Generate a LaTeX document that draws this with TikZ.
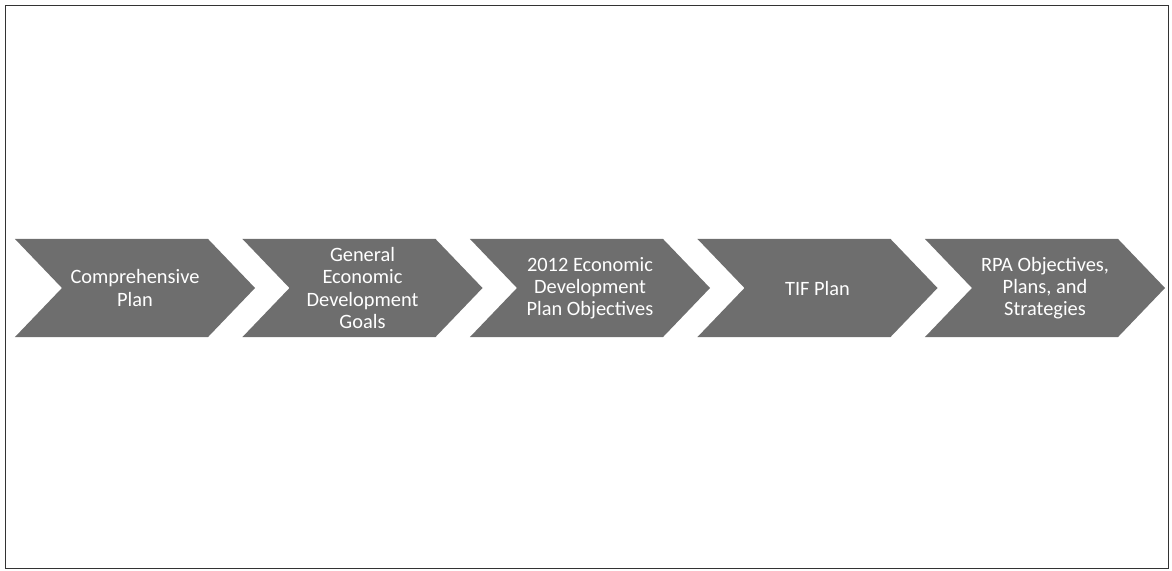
\documentclass[tikz,border=0pt]{standalone}
\usepackage{fontspec}
\setmainfont{Carlito}
\usetikzlibrary{shapes.symbols}

\begin{document}
\begin{tikzpicture}[x=0.025cm, y=-0.025cm,
  stage/.style={signal, signal to=east, signal from=west,
    signal pointer angle=92.4, fill=black!57, text=white,
    minimum width=6cm, minimum height=2.45cm, inner sep=0pt,
    align=center, font=\fontsize{14.5}{15.8}\selectfont}]
\def\dx{227.5}
\def\xa{135}
\def\yc{288}

\useasboundingbox (0,0) rectangle (1172,571);
\draw[black!80, line width=0.7pt] (5,5) rectangle (1168,568);

\node[stage] (comp) at (\xa, \yc) {Comprehensive\\Plan};
\node[stage] (goals) at (\xa + \dx, \yc) {General\\Economic\\Development\\Goals};
\node[stage] (obj) at (\xa + 2 * \dx, \yc) {2012 Economic\\Development\\Plan Objectives};
\node[stage] (tif) at (\xa + 3 * \dx, \yc) {TIF Plan};
\node[stage] (rpa) at (\xa + 4 * \dx, \yc) {RPA Objectives,\\Plans, and\\Strategies};

\end{tikzpicture}
\end{document}
